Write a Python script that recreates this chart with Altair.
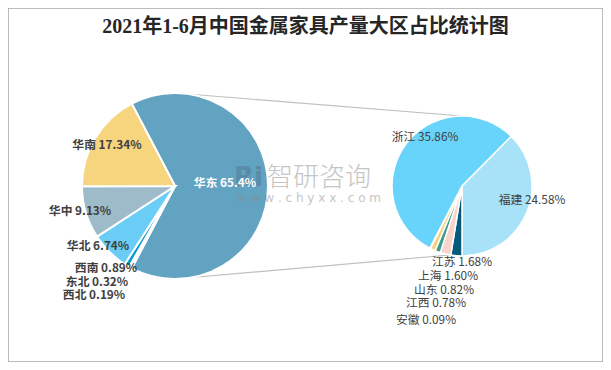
import math
import altair as alt
import pandas as pd

# ---------------- data ----------------
TITLE = "2021年1-6月中国金属家具产量大区占比统计图"

LEFT_REGIONS = ["华东", "西北", "东北", "西南", "华北", "华中", "华南"]
LEFT_SHARES = [65.4, 0.19, 0.32, 0.89, 6.74, 9.13, 17.34]
LEFT_PCT_TEXT = ["65.4%", "0.19%", "0.32%", "0.89%", "6.74%", "9.13%", "17.34%"]

RIGHT_PROVINCES = ["福建", "江苏", "上海", "山东", "江西", "安徽", "浙江"]
RIGHT_SHARES = [24.58, 1.68, 1.60, 0.82, 0.78, 0.09, 35.86]
RIGHT_PCT_TEXT = ["24.58%", "1.68%", "1.60%", "0.82%", "0.78%", "0.09%", "35.86%"]

WATERMARK = "智研咨询"
WATERMARK_URL = "w w w . c h y x x . c o m"

# ---------------- styling / layout ----------------
W, H = 595, 354
LEFT_COLORS = ["#62A3C2", "#F4C6BC", "#1D7FA6", "#0B9ACF", "#69CDF6", "#9EBBC9", "#F7D47E"]
RIGHT_COLORS = ["#A7E2F9", "#045B7B", "#F8D5CC", "#3C9C8C", "#F6D27F", "#9EBBC9", "#68D4FB"]

CX1, CY1, R1 = 167, 178, 93
CX2, CY2, R2 = 454, 178, 70

# label anchor positions (chart pixel coordinates)
LEFT_LABEL_X = [217, 86, 89, 98, 90, 72, 99]
LEFT_LABEL_Y = [175, 287, 274, 260, 238, 203, 137]
RIGHT_LABEL_X = [524, 454, 440, 436, 428, 418, 417]
RIGHT_LABEL_Y = [192, 254, 268, 282, 295, 312, 129]

LABEL_FONT = "Noto Sans CJK SC"

left_df = pd.DataFrame({
    "name": LEFT_REGIONS,
    "share": LEFT_SHARES,
    "idx": list(range(len(LEFT_REGIONS))),
    "label": [f"{n} {p}" for n, p in zip(LEFT_REGIONS, LEFT_PCT_TEXT)],
    "lx": LEFT_LABEL_X,
    "ly": LEFT_LABEL_Y,
    "inside": [n == "华东" for n in LEFT_REGIONS],
})
right_df = pd.DataFrame({
    "name": RIGHT_PROVINCES,
    "share": RIGHT_SHARES,
    "idx": list(range(len(RIGHT_PROVINCES))),
    "label": [f"{n} {p}" for n, p in zip(RIGHT_PROVINCES, RIGHT_PCT_TEXT)],
    "lx": RIGHT_LABEL_X,
    "ly": RIGHT_LABEL_Y,
})

# rotation so that the split slice (华东) is centred at 3 o'clock
total_left = sum(LEFT_SHARES)
left_start = math.radians(90 - LEFT_SHARES[0] / total_left * 360 / 2)
total_right = sum(RIGHT_SHARES)
right_start = math.radians(180 - RIGHT_SHARES[0] / total_right * 360)

left_pie = alt.Chart(left_df).mark_arc(
    outerRadius=R1, stroke="white", strokeWidth=2
).encode(
    theta=alt.Theta("share:Q", stack=True,
                    scale=alt.Scale(range=[left_start, left_start + 2 * math.pi])),
    order=alt.Order("idx:Q"),
    color=alt.Color("name:N", scale=alt.Scale(domain=LEFT_REGIONS, range=LEFT_COLORS), legend=None),
    x=alt.value(CX1),
    y=alt.value(CY1),
)

right_pie = alt.Chart(right_df).mark_arc(
    outerRadius=R2, stroke="white", strokeWidth=1.5
).encode(
    theta=alt.Theta("share:Q", stack=True,
                    scale=alt.Scale(range=[right_start, right_start + 2 * math.pi])),
    order=alt.Order("idx:Q"),
    color=alt.Color("name:N", scale=alt.Scale(domain=RIGHT_PROVINCES, range=RIGHT_COLORS), legend=None),
    x=alt.value(CX2),
    y=alt.value(CY2),
)

conn_df = pd.DataFrame({"k": [0, 1]})
upper = alt.Chart(conn_df).transform_filter("datum.k == 0").mark_rule(
    color="#BFBFBF", strokeWidth=1.2
).encode(x=alt.value(CX1), y=alt.value(CY1 - R1), x2=alt.value(CX2), y2=alt.value(CY2 - R2))
lower = alt.Chart(conn_df).transform_filter("datum.k == 1").mark_rule(
    color="#BFBFBF", strokeWidth=1.2
).encode(x=alt.value(CX1), y=alt.value(CY1 + R1), x2=alt.value(CX2), y2=alt.value(CY2 + R2 - 2))

left_text = alt.Chart(left_df).mark_text(
    font=LABEL_FONT, fontSize=11.8, fontWeight="bold", align="center", baseline="middle"
).encode(
    x=alt.X("lx:Q", scale=None),
    y=alt.Y("ly:Q", scale=None),
    text="label:N",
    color=alt.condition("datum.inside", alt.value("white"), alt.value("#404040")),
)

right_text = alt.Chart(right_df).mark_text(
    font=LABEL_FONT, fontSize=11.8, align="center", baseline="middle", color="#404040"
).encode(
    x=alt.X("lx:Q", scale=None),
    y=alt.Y("ly:Q", scale=None),
    text="label:N",
)

title_df = pd.DataFrame({"t": [TITLE]})
title = alt.Chart(title_df).mark_text(
    font="Liberation Serif, Noto Sans CJK SC", fontSize=20, fontWeight="bold",
    color="#262626", align="center", baseline="middle"
).encode(x=alt.value(W / 2), y=alt.value(19), text="t:N")

wm_df = pd.DataFrame({"t": [WATERMARK], "u": [WATERMARK_URL]})
wm1 = alt.Chart(wm_df).mark_text(
    font=LABEL_FONT, fontSize=26, fontWeight=300, color="#8C8C8C", opacity=0.5,
    align="left", baseline="middle"
).encode(x=alt.value(259), y=alt.value(170), text="t:N")
wm2 = alt.Chart(wm_df).mark_text(
    font="DejaVu Sans", fontSize=12, color="#8C8C8C", opacity=0.5, align="left", baseline="middle"
).encode(x=alt.value(229), y=alt.value(190), text="u:N")
wm3 = alt.Chart(wm_df).mark_text(
    font="DejaVu Sans", fontSize=26, fontWeight="bold", color="#4F6A86", opacity=0.4,
    align="left", baseline="middle"
).encode(x=alt.value(226), y=alt.value(170), text=alt.value("Ri"))

chart = alt.layer(
    upper, lower, left_pie, right_pie, wm3, wm1, wm2, left_text, right_text, title
).resolve_scale(
    theta="independent", color="independent"
).properties(
    width=W, height=H, padding=0, autosize=alt.AutoSizeParams(type="none")
).configure_view(stroke="#A6A6A6", strokeWidth=1.5)

chart.save("out.html", embed_options={"renderer": "svg", "actions": False})
